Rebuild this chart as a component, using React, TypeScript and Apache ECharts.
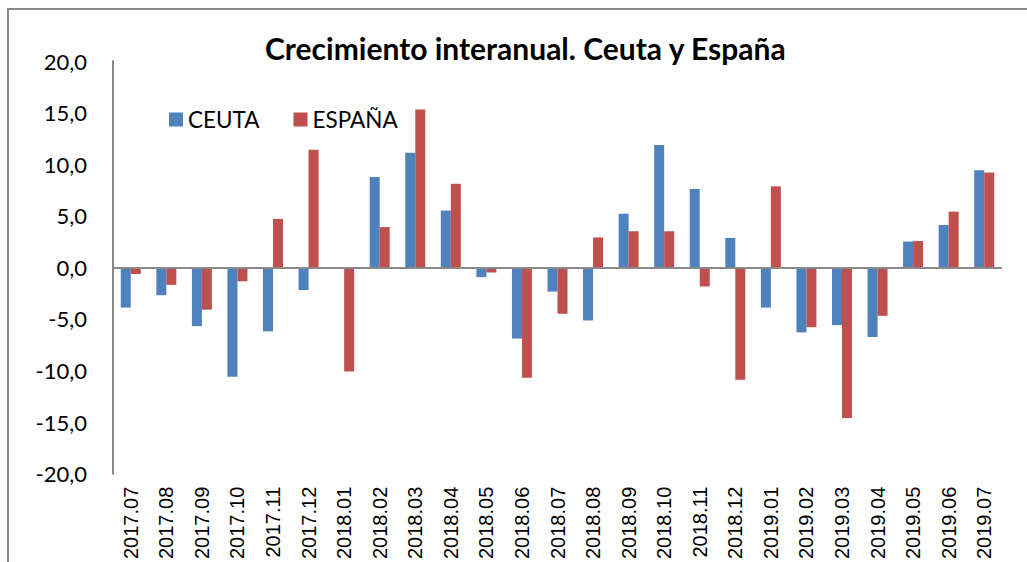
import React, { useEffect, useRef } from "react";
import * as echarts from "echarts";

const categories = [
  "2017.07", "2017.08", "2017.09", "2017.10", "2017.11", "2017.12",
  "2018.01", "2018.02", "2018.03", "2018.04", "2018.05", "2018.06",
  "2018.07", "2018.08", "2018.09", "2018.10", "2018.11", "2018.12",
  "2019.01", "2019.02", "2019.03", "2019.04", "2019.05", "2019.06", "2019.07",
];

const ceuta = [
  -3.9, -2.7, -5.7, -10.6, -6.2, -2.2,
  0.0, 8.75, 11.1, 5.5, -0.95, -6.9,
  -2.35, -5.15, 5.2, 11.85, 7.6, 2.85,
  -3.9, -6.3, -5.6, -6.75, 2.5, 4.1, 9.4,
];

const espana = [
  -0.65, -1.7, -4.1, -1.35, 4.7, 11.4,
  -10.1, 3.9, 15.3, 8.1, -0.5, -10.7,
  -4.5, 2.9, 3.5, 3.5, -1.85, -10.9,
  7.85, -5.8, -14.6, -4.7, 2.55, 5.4, 9.2,
];

const yMin = -20;
const yMax = 20;
const yStep = 5;

export default function App() {
  const ref = useRef<HTMLDivElement>(null);

  useEffect(() => {
    if (!ref.current) return;
    const chart = echarts.init(ref.current, undefined, { renderer: "svg" });
    const axisGray = "#898989";
    chart.setOption({
      animation: false,
      backgroundColor: "#ffffff",
      title: {
        text: "Crecimiento interanual. Ceuta y España",
        left: 265,
        top: 33,
        padding: 0,
        textStyle: {
          fontFamily: "Lato",
          fontWeight: "bold",
          fontSize: 30,
          color: "#000000",
        },
      },
      legend: {
        left: 169,
        top: 108,
        padding: 0,
        itemWidth: 14,
        itemHeight: 14,
        itemGap: 34,
        icon: "rect",
        textStyle: {
          fontFamily: "Lato",
          fontSize: 22.5,
          color: "#000000",
          padding: [0, 0, 0, 0],
        },
        data: ["CEUTA", "ESPAÑA"],
      },
      graphic: [
        {
          type: "rect",
          shape: { x: 8, y: 9, width: 1200, height: 800 },
          style: { fill: "none", stroke: axisGray, lineWidth: 2 },
          silent: true,
        },
      ],
      grid: { left: 113, right: 25, top: 61, bottom: 82, containLabel: false },
      xAxis: {
        type: "category",
        data: categories,
        axisLine: { show: false, onZero: false },
        axisTick: { show: false },
        axisLabel: {
          interval: 0,
          rotate: 90,
          margin: 13,
          fontFamily: "Liberation Sans",
          fontSize: 20,
          color: "#000000",
        },
      },
      yAxis: {
        type: "value",
        min: yMin,
        max: yMax,
        interval: yStep,
        axisLine: { show: true, lineStyle: { color: axisGray, width: 2 } },
        axisTick: { show: false },
        splitLine: { show: false },
        axisLabel: {
          margin: 26,
          fontFamily: "Lato",
          fontSize: 22,
          color: "#000000",
          formatter: (v: number) => v.toFixed(1).replace(".", ","),
        },
      },
      series: [
        {
          name: "CEUTA",
          type: "bar",
          data: ceuta,
          barWidth: 10,
          barGap: "0%",
          itemStyle: { color: "#4F81BD" },
          markLine: {
            silent: true,
            symbol: ["none", "none"],
            label: { show: false },
            lineStyle: { color: axisGray, type: "solid", width: 2 },
            data: [{ yAxis: 0 }],
          },
        },
        {
          name: "ESPAÑA",
          type: "bar",
          data: espana,
          barWidth: 10,
          barGap: "0%",
          itemStyle: { color: "#C0504D" },
        },
      ],
    });
    return () => chart.dispose();
  }, []);

  return (
    <div
      ref={ref}
      style={{ position: "fixed", left: 0, top: 0, width: 1027, height: 562 }}
    />
  );
}
